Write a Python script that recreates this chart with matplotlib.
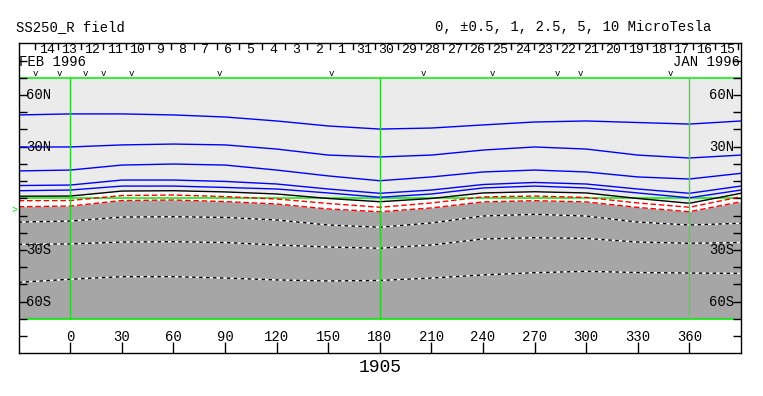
import matplotlib
matplotlib.use("Agg")
import matplotlib.pyplot as plt
import numpy as np

lons = [-30, 0, 30, 60, 90, 120, 150, 180, 210, 240, 270, 300, 330, 360, 390]

# contour latitudes (deg) per level, in microtesla
pos10 = [48.4, 49.0, 49.0, 48.4, 47.2, 44.9, 42.0, 40.2, 40.8, 42.6, 44.3, 44.9, 44.0, 43.1, 44.9]
pos5 = [29.8, 29.8, 31.0, 31.5, 31.0, 28.6, 25.1, 24.0, 25.1, 28.0, 29.8, 28.6, 25.1, 23.4, 25.1]
pos2_5 = [15.9, 16.4, 19.3, 19.9, 19.3, 16.4, 13.0, 10.2, 12.4, 15.3, 16.4, 15.3, 12.4, 11.2, 14.5]
pos1 = [7.4, 7.7, 10.6, 10.6, 9.8, 8.3, 5.4, 2.9, 4.8, 8.0, 9.2, 8.3, 5.4, 2.9, 7.1]
pos0_5 = [4.4, 4.8, 7.1, 7.1, 6.3, 5.4, 3.1, 0.6, 2.5, 6.0, 7.1, 6.0, 3.1, 0.3, 4.8]
zero = [1.2, 1.3, 4.2, 4.4, 3.7, 2.5, -0.1, -2.0, -0.1, 3.1, 3.8, 3.1, -0.1, -2.9, 2.9]
neg0_5 = [-1.4, -1.3, 1.6, 1.9, 1.0, -0.4, -3.0, -5.2, -2.7, 0.8, 1.3, 0.5, -2.7, -5.2, 0.9]
neg1 = [-4.9, -4.5, -1.3, -1.0, -1.9, -3.3, -6.2, -7.8, -5.6, -2.1, -1.4, -2.1, -5.3, -7.8, -2.0]
neg2_5 = [-13.8, -13.2, -10.9, -10.7, -11.1, -12.6, -15.5, -16.8, -14.3, -10.3, -9.3, -10.3, -13.8, -15.5, -14.5]
neg5 = [-26.7, -26.5, -25.4, -25.2, -25.7, -27.1, -28.3, -29.0, -27.1, -23.6, -22.9, -23.3, -25.4, -26.1, -25.7]
neg10 = [-48.8, -47.0, -45.5, -45.5, -46.3, -47.4, -48.0, -47.7, -46.3, -44.5, -43.2, -42.4, -43.1, -43.4, -43.6]

# date strip: day labels from left to right, first day boundary and day length (deg)
day_labels = ['14', '13', '12', '11', '10', '9', '8', '7', '6', '5', '4', '3', '2', '1',
              '31', '30', '29', '28', '27', '26', '25', '24', '23', '22', '21', '20',
              '19', '18', '17', '16', '15']
first_day_lon = -20.4
deg_per_day = 360 / 27.3

# observation markers along the top
mark_lons = [-20.5, -6.6, 9.0, 19.0, 35.3, 86.5, 151.6, 205.3, 245.4, 283.2, 296.6, 349.2]

lat_labels = [60, 30, -30, -60]
lon_ticks = list(range(0, 361, 30))
earth_lat = -6.8
rotation = '1905'

mono = 'Liberation Mono'

fig = plt.figure(figsize=(7.63, 3.96), dpi=100)
ax = fig.add_axes([18.7 / 763, 42.7 / 396, 722.2 / 763, 310.0 / 396])
ax.set_xlim(-30, 390)
ax.set_ylim(-90, 90)

# background fields
ax.fill_between(lons, zero, 70, color='#ebebeb', lw=0, zorder=0)
ax.fill_between(lons, neg1, zero, color='white', lw=0, zorder=0)
ax.fill_between(lons, -70, neg1, color='#a6a6a6', lw=0, zorder=0)

# green frame / grid lines
ax.plot([-30, 390], [70, 70], color='#00ee00', lw=1.1, zorder=1)
ax.plot([-25, 386], [-70, -70], color='#00ee00', lw=1.1, zorder=1)
ax.plot([-30, 390], [0, 0], color='#00ee00', lw=1.1, zorder=1)
for lon, c in [(0, '#00ee00'), (180, '#00ee00'), (360, '#66c066')]:
    ax.plot([lon, lon], [-70, 70], color=c, lw=1.0, zorder=4)

# positive contours
for lat in [pos10, pos5, pos2_5, pos1, pos0_5]:
    ax.plot(lons, lat, color='#0000ff', lw=1.0, zorder=2)
ax.plot(lons, zero, color='black', lw=1.0, zorder=2)
# negative contours
for lat in [neg0_5, neg1]:
    ax.plot(lons, lat, color='#ff0000', lw=1.0, ls=(0, (4, 2)), zorder=2)
for lat in [neg2_5, neg5, neg10]:
    ax.plot(lons, lat, color='white', lw=1.0, zorder=2)
    ax.plot(lons, lat, color='black', lw=1.0, ls=(0, (2.5, 2.5)), zorder=2)

# latitude ticks on both sides
ax.set_yticks(range(-80, 81, 10))
ax.set_yticklabels([])
ax.tick_params(axis='y', direction='in', length=6, width=1, left=True, right=True, color='black')
ax.set_xticks(lon_ticks)
ax.set_xticklabels([])
ax.tick_params(axis='x', direction='in', length=8, width=1, top=False, bottom=True)
for s in ax.spines.values():
    s.set_linewidth(1)
    s.set_zorder(6)

for lat in lat_labels:
    lab = f"{abs(lat)}{'N' if lat > 0 else 'S'}"
    ax.text(-25.5, lat, lab, ha='left', va='center', fontsize=10, family=mono, zorder=5)
    ax.text(386.0, lat, lab, ha='right', va='center', fontsize=10, family=mono, zorder=5)

for lon in lon_ticks:
    ax.text(lon, -80.5, str(lon), ha='center', va='center', fontsize=10, family=mono)

# date strip
for i in range(len(day_labels) + 1):
    b = first_day_lon + i * deg_per_day
    ax.plot([b, b], [90, 86.8], color='black', lw=1.0, zorder=5)
for i, d in enumerate(day_labels):
    c = first_day_lon + (i + 0.5) * deg_per_day
    ax.text(c, 86.0, d, ha='center', va='center', fontsize=9.5, family=mono)
ax.text(-29.7, 79.0, 'FEB 1996', ha='left', va='center', fontsize=10, family=mono)
ax.text(389.6, 79.0, 'JAN 1996', ha='right', va='center', fontsize=10, family=mono)
for lon in mark_lons:
    ax.text(lon, 71.2, 'v', ha='center', va='baseline', fontsize=6.5, family=mono)

ax.text(-31, earth_lat, '>', color='#00dd00', ha='right', va='center', fontsize=7,
        family=mono, clip_on=False)

fig.text(16 / 763, 1 - 27 / 396, 'SS250_R field', ha='left', va='center', fontsize=10, family=mono)
fig.text(711 / 763, 1 - 27 / 396, '0, \u00b10.5, 1, 2.5, 5, 10 MicroTesla', ha='right',
         va='center', fontsize=10, family=mono)
fig.text(380 / 763, 1 - 367 / 396, rotation, ha='center', va='center', fontsize=13, family=mono)

fig.savefig('out.png', dpi=100)
